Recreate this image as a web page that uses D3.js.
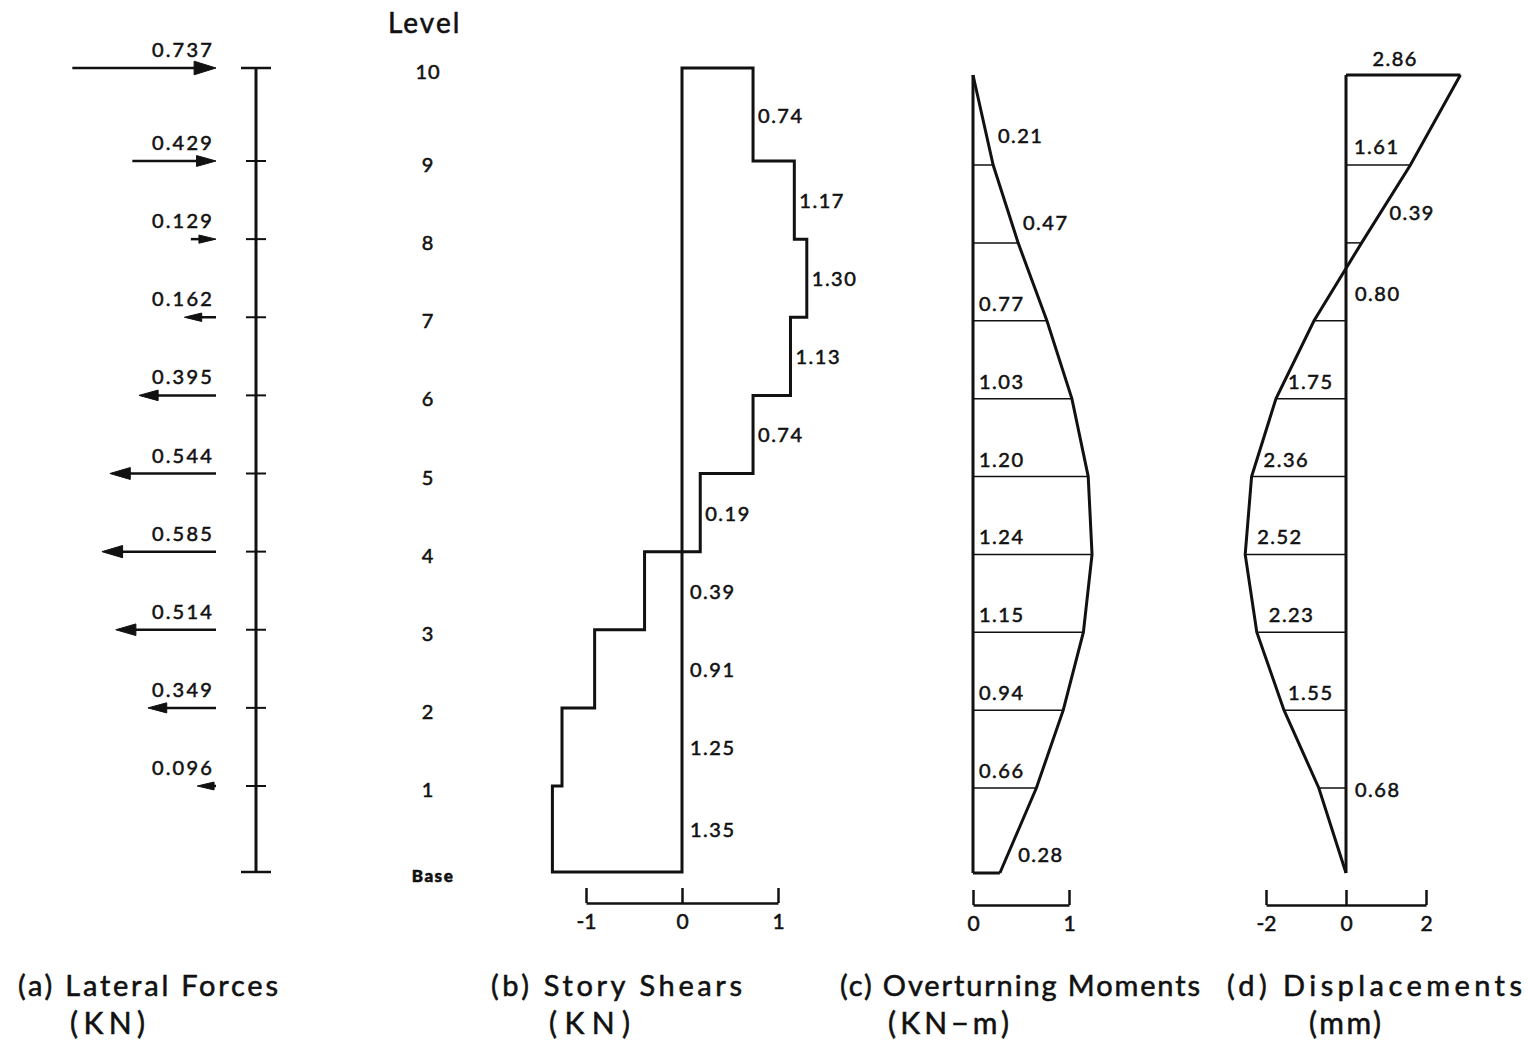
<!DOCTYPE html>
<html>
<head>
<meta charset="utf-8">
<script src="https://cdn.jsdelivr.net/npm/d3@7"></script>
<style>
  html, body { margin: 0; padding: 0; background: #fff; }
  svg { display: block; }
  text { font-family: Lato, "Noto Sans", sans-serif; fill: #111; stroke: #111; stroke-width: 0.55px; }
</style>
</head>
<body>
<svg id="chart" width="1528" height="1042"></svg>
<script>
// ---------------- data ----------------
const levels = [10, 9, 8, 7, 6, 5, 4, 3, 2, 1, 0];
const levelLabels = ["10", "9", "8", "7", "6", "5", "4", "3", "2", "1", "Base"];
// lateral force applied at levels 10..1 (KN); + = to the right
const lateralForces = [0.737, 0.429, 0.129, -0.162, -0.395, -0.544, -0.585, -0.514, -0.349, -0.096];
// story shear for stories 10..1 (KN)
const storyShears = [0.74, 1.17, 1.30, 1.13, 0.74, 0.19, -0.39, -0.91, -1.25, -1.35];
// overturning moment at levels 10..Base (KN-m)
const moments = [0, 0.21, 0.47, 0.77, 1.03, 1.20, 1.24, 1.15, 0.94, 0.66, 0.28];
// displacement at levels 10..Base (mm)
const displacements = [2.86, 1.61, 0.39, -0.80, -1.75, -2.36, -2.52, -2.23, -1.55, -0.68, 0];
const shearTicks = [-1, 0, 1];
const momentTicks = [0, 1];
const dispTicks = [-2, 0, 2];
const titles = ["(a) Lateral Forces", "(b) Story Shears", "(c) Overturning Moments", "(d) Displacements"];
const units = ["(KN)", "(KN)", "(KN\u2212m)", "(mm)"];

// ---------------- scales ----------------
const yAB = d3.scaleLinear().domain([0, 1, 9, 10]).range([872, 786, 161, 68]);
const yCD = d3.scaleLinear().domain([0, 1, 9, 10]).range([873, 788, 165, 75]);
const xForce = d3.scaleLinear().domain([0, 1]).range([216, 21]);
const xShear = d3.scaleLinear().domain([-1, 1]).range([586, 778]);
const xMoment = d3.scaleLinear().domain([0, 1]).range([973, 1069]);
const xDisp = d3.scaleLinear().domain([-2, 2]).range([1266, 1426]);

const svg = d3.select("#chart");
const ink = "#111";
const fmt2 = d3.format(".2f");
const fmt3 = d3.format(".3f");
const numFont = 20;

// ---------------- (a) lateral forces ----------------
const gA = svg.append("g");
const axisX = 256;
gA.append("line").attr("x1", axisX).attr("x2", axisX)
  .attr("y1", yAB(10)).attr("y2", yAB(0))
  .attr("stroke", ink).attr("stroke-width", 3);
gA.selectAll("line.tick").data(levels).join("line").attr("class", "tick")
  .attr("x1", d => axisX - ((d === 10 || d === 0) ? 15 : 10))
  .attr("x2", d => axisX + ((d === 10 || d === 0) ? 15 : 10))
  .attr("y1", d => yAB(d)).attr("y2", d => yAB(d))
  .attr("stroke", ink).attr("stroke-width", d => (d === 10 || d === 0) ? 2.5 : 2);

const forceData = lateralForces.map((f, i) => ({ level: levels[i], f }));
const near = xForce(0);
forceData.forEach(d => {
  const y = yAB(d.level);
  const far = xForce(Math.abs(d.f));
  const headLen = Math.min(16 + Math.abs(d.f) * 8, near - far);
  const headW = 3.5 + Math.abs(d.f) * 4.5;
  if (d.f > 0) {
    gA.append("line").attr("x1", far).attr("x2", near - headLen + 2)
      .attr("y1", y).attr("y2", y).attr("stroke", ink).attr("stroke-width", 2.5);
    gA.append("path")
      .attr("d", `M${near},${y} L${near - headLen},${y - headW} L${near - headLen},${y + headW} Z`)
      .attr("fill", ink).attr("stroke", ink).attr("stroke-width", 1).attr("stroke-linejoin", "round");
  } else {
    gA.append("line").attr("x1", near).attr("x2", far + headLen - 2)
      .attr("y1", y).attr("y2", y).attr("stroke", ink).attr("stroke-width", 2.5);
    gA.append("path")
      .attr("d", `M${far},${y} L${far + headLen},${y - headW} L${far + headLen},${y + headW} Z`)
      .attr("fill", ink).attr("stroke", ink).attr("stroke-width", 1).attr("stroke-linejoin", "round");
  }
  gA.append("text").attr("x", 214).attr("y", y - 11)
    .attr("text-anchor", "end").attr("font-size", numFont).attr("letter-spacing", 2.2)
    .text(fmt3(Math.abs(d.f)));
});

// ---------------- level labels ----------------
svg.append("text").attr("x", 388).attr("y", 33)
  .attr("font-size", 28).attr("letter-spacing", 2).text("Level");
svg.selectAll("text.lvl").data(levels).join("text").attr("class", "lvl")
  .attr("x", d => d === 0 ? 433 : 428)
  .attr("y", d => yAB(d) + 3)
  .attr("dominant-baseline", "central")
  .attr("text-anchor", "middle")
  .attr("font-size", d => d === 0 ? 17 : 20)
  .attr("font-weight", d => d === 0 ? 900 : 400)
  .attr("letter-spacing", d => d === 0 ? 1.5 : 1)
  .text((d, i) => levelLabels[i]);

// ---------------- (b) story shears ----------------
const gB = svg.append("g");
const x0b = xShear(0);
const pts = [[x0b, yAB(10)]];
storyShears.forEach((v, i) => {
  const top = levels[i], bot = levels[i + 1];
  pts.push([xShear(v), yAB(top)]);
  pts.push([xShear(v), yAB(bot)]);
});
pts.push([x0b, yAB(0)]);
gB.append("path").attr("d", d3.line()(pts) + "Z")
  .attr("fill", "none").attr("stroke", ink).attr("stroke-width", 3).attr("stroke-linejoin", "miter");
storyShears.forEach((v, i) => {
  const ym = (yAB(levels[i]) + yAB(levels[i + 1])) / 2;
  const xl = v > 0 ? xShear(v) + 5 : x0b + 8;
  gB.append("text").attr("x", xl).attr("y", ym).attr("dominant-baseline", "central")
    .attr("font-size", numFont).attr("letter-spacing", 1.5).text(fmt2(Math.abs(v)));
});

// ---------------- axes helper ----------------
function drawAxis(scale, ticks, y) {
  const s = d3.scaleLinear().domain(d3.extent(ticks)).range(d3.extent(ticks).map(scale));
  const ax = d3.axisBottom(s).tickValues(ticks).tickSizeInner(-15).tickSizeOuter(0)
    .tickPadding(11).tickFormat(d => String(d));
  const g = svg.append("g").attr("transform", `translate(0,${y})`).call(ax);
  g.select(".domain").attr("stroke", ink).attr("stroke-width", 2.5);
  g.selectAll(".tick line").attr("stroke", ink).attr("stroke-width", 2.5);
  g.selectAll(".tick text").attr("font-size", 21).attr("fill", ink)
    .style("font-family", "Lato, 'Noto Sans', sans-serif");
  return g;
}
drawAxis(xShear, shearTicks, 903);
drawAxis(xMoment, momentTicks, 905);
drawAxis(xDisp, dispTicks, 905);

// ---------------- (c) overturning moments ----------------
const gC = svg.append("g");
const x0c = xMoment(0);
gC.append("line").attr("x1", x0c).attr("x2", x0c).attr("y1", yCD(10)).attr("y2", yCD(0))
  .attr("stroke", ink).attr("stroke-width", 3);
levels.forEach((lv, i) => {
  if (lv === 10) return;
  gC.append("line").attr("x1", x0c).attr("x2", xMoment(moments[i]))
    .attr("y1", yCD(lv)).attr("y2", yCD(lv))
    .attr("stroke", ink).attr("stroke-width", lv === 0 ? 3 : 1.5);
});
gC.append("path")
  .attr("d", d3.line()(levels.map((lv, i) => [xMoment(moments[i]), yCD(lv)])))
  .attr("fill", "none").attr("stroke", ink).attr("stroke-width", 3);
levels.forEach((lv, i) => {
  if (lv === 10) return;
  const v = moments[i];
  let x, y;
  if (lv >= 8 || lv === 0) {
    const yl = yCD(lv) - (lv === 9 ? 28 : lv === 8 ? 19 : 17);
    const t = (yl - yCD(levels[i - 1])) / (yCD(lv) - yCD(levels[i - 1]));
    const vc = moments[i - 1] + (v - moments[i - 1]) * t;
    x = xMoment(vc) + 11;
    y = yl + 6;
  } else {
    x = x0c + 6;
    y = yCD(lv) - 10;
  }
  gC.append("text").attr("x", x).attr("y", y)
    .attr("font-size", numFont).attr("letter-spacing", 1.5).text(fmt2(v));
});

// ---------------- (d) displacements ----------------
const gD = svg.append("g");
const x0d = xDisp(0);
gD.append("line").attr("x1", x0d).attr("x2", x0d).attr("y1", yCD(10)).attr("y2", yCD(0))
  .attr("stroke", ink).attr("stroke-width", 3);
levels.forEach((lv, i) => {
  if (lv === 0) return;
  gD.append("line").attr("x1", x0d).attr("x2", xDisp(displacements[i]))
    .attr("y1", yCD(lv)).attr("y2", yCD(lv))
    .attr("stroke", ink).attr("stroke-width", lv === 10 ? 3 : 1.5);
});
gD.append("path")
  .attr("d", d3.line()(levels.map((lv, i) => [xDisp(displacements[i]), yCD(lv)])))
  .attr("fill", "none").attr("stroke", ink).attr("stroke-width", 3);
levels.forEach((lv, i) => {
  if (lv === 0) return;
  const v = displacements[i];
  let x, y, anchor = "start";
  if (lv === 10) {
    x = (x0d + xDisp(v)) / 2 - 8; y = yCD(lv) - 9; anchor = "middle";
  } else if (lv === 9) {
    x = x0d + 8; y = yCD(lv) - 11;
  } else if (lv === 8) {
    const yl = yCD(lv) - 30;
    const t = (yl - yCD(levels[i - 1])) / (yCD(lv) - yCD(levels[i - 1]));
    const vc = displacements[i - 1] + (v - displacements[i - 1]) * t;
    x = xDisp(vc) + 9; y = yl + 7;
  } else if (lv === 7) {
    x = x0d + 9; y = yCD(lv) - 20;
  } else if (lv === 1) {
    x = x0d + 9; y = yCD(lv) + 9;
  } else {
    x = xDisp(v) + (lv === 2 ? 4 : 12); y = yCD(lv) - 10;
  }
  gD.append("text").attr("x", x).attr("y", y).attr("text-anchor", anchor)
    .attr("font-size", numFont).attr("letter-spacing", 1.5).text(fmt2(Math.abs(v)));
});

// ---------------- titles ----------------
const titleX = [18, 491, 840, 1227];
const titleW = [260, 251, 360, 295];
const unitX = [70, 549, 888, 1309];
const unitW = [75, 81, 121, 72];
svg.selectAll("text.title").data(titles).join("text").attr("class", "title")
  .attr("x", (d, i) => titleX[i]).attr("y", 996)
  .attr("font-size", 29)
  .attr("textLength", (d, i) => titleW[i]).attr("lengthAdjust", "spacing")
  .text(d => d);
svg.selectAll("text.unit").data(units).join("text").attr("class", "unit")
  .attr("x", (d, i) => unitX[i]).attr("y", 1034)
  .attr("font-size", 30)
  .attr("textLength", (d, i) => unitW[i]).attr("lengthAdjust", "spacing")
  .text(d => d);
</script>
</body>
</html>
